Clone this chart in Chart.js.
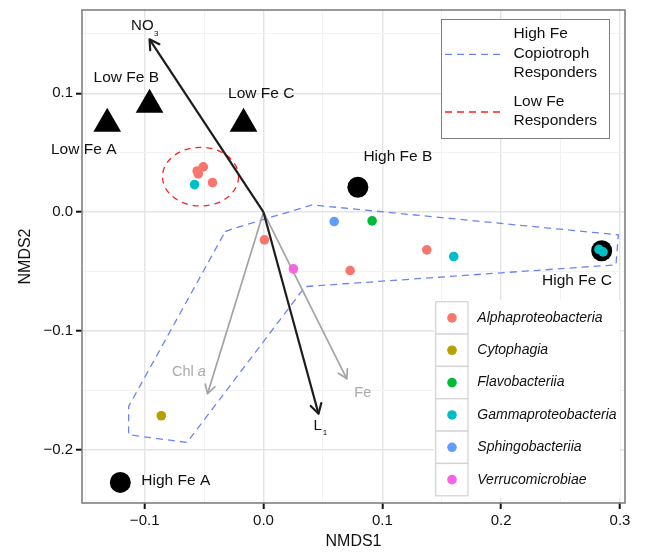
<!DOCTYPE html>
<html>
<head>
<meta charset="utf-8">
<script src="https://cdn.jsdelivr.net/npm/chart.js@4.4.0/dist/chart.umd.min.js"></script>
<style>
    html, body { margin: 0; padding: 0; background: #fff; }
    #wrap { width: 645px; height: 552px; }
</style>
</head>
<body>
<div id="wrap"><canvas id="nmds" width="645" height="552"></canvas></div>
<script>
// sample scores
var sampleNames = ['Low Fe A', 'Low Fe B', 'Low Fe C', 'High Fe A', 'High Fe B', 'High Fe C'];
var sampleX = [-0.1315, -0.0959, -0.0168, -0.1205, 0.0794, 0.2846];
var sampleY = [0.0744, 0.0904, 0.0744, -0.2274, 0.0210, -0.0325];

// responder OTUs by class
var taxaNames = ['Alphaproteobacteria', 'Cytophagia', 'Flavobacteriia', 'Gammaproteobacteria', 'Sphingobacteriia', 'Verrucomicrobiae'];
var alphaX = [-0.0558, -0.0507, -0.0549, -0.0429, 0.0008, 0.0729, 0.1374];
var alphaY = [0.0347, 0.0381, 0.0322, 0.0249, -0.0233, -0.0491, -0.0317];
var cytoX = [-0.0860];
var cytoY = [-0.1713];
var flavoX = [0.0914];
var flavoY = [-0.0073];
var gammaX = [-0.0580, 0.1601, 0.2823, 0.2857];
var gammaY = [0.0232, -0.0373, -0.0313, -0.0334];
var sphingoX = [0.0595];
var sphingoY = [-0.0079];
var verrucoX = [0.0252];
var verrucoY = [-0.0477];

// fitted environmental vectors
var vectorNames = ['NO3', 'L1', 'Chl a', 'Fe'];
var vectorX = [-0.0959, 0.0463, -0.0471, 0.0701];
var vectorY = [0.1455, -0.1696, -0.1528, -0.1402];

// High Fe copiotroph responders hull
var hullX = [-0.0322, -0.0246, 0.0410, 0.2986, 0.2966, 0.0351, -0.0644, -0.1135, -0.1135, -0.0322];
var hullY = [-0.0163, -0.0135, 0.0061, -0.0191, -0.0443, -0.0626, -0.1938, -0.1873, -0.1635, -0.0163];

// Low Fe responders ellipse
var ellipseCenter = [-0.0530, 0.0299];
var ellipseRadii = [0.0320, 0.0247];

// axis ticks
var xMajor = [-0.1, 0, 0.1, 0.2, 0.3];
var xMinor = [-0.15, -0.05, 0.05, 0.15, 0.25];
var yMajor = [-0.2, -0.1, 0, 0.1];
var yMinor = [-0.15, -0.05, 0.05, 0.15];

var taxaColors = ['#F8766D', '#B79F00', '#00BA38', '#00BFC4', '#619CFF', '#F564E3'];
var vecColors = ['#1c1c1c', '#1c1c1c', '#a3a3a3', '#a3a3a3'];
var FONT = "'Liberation Sans', Arial, Helvetica, sans-serif";

Chart.defaults.font.family = FONT;

function pts(xs, ys) {
    return xs.map((x, i) => ({x: x, y: ys[i]}));
}

function isMajor(v, list) {
    return list.some(m => Math.abs(m - v) < 1e-6);
}

function tickText(v) {
    let s = Math.abs(v).toFixed(1);
    return v < -1e-9 ? '\u2212' + s : s;
}

function allTicks(a, b) {
    return a.concat(b).sort((p, q) => p - q).map(v => ({value: v}));
}

function axis(major, minor, min, max, title, titlePad) {
    return {
        type: 'linear',
        min: min,
        max: max,
        afterBuildTicks: s => { s.ticks = allTicks(major, minor); },
        grid: {
            color: c => isMajor(c.tick.value, major) ? '#e4e4e4' : '#f2f2f2',
            lineWidth: c => isMajor(c.tick.value, major) ? 1.4 : 1,
            tickColor: c => isMajor(c.tick.value, major) ? '#111' : 'rgba(0,0,0,0)',
            tickWidth: 2,
            tickLength: 6
        },
        border: { display: false },
        ticks: {
            autoSkip: false,
            maxRotation: 0,
            minRotation: 0,
            padding: 3,
            color: '#111',
            font: { size: 15, family: FONT, lineHeight: 1.2 },
            callback: v => isMajor(v, major) ? tickText(v) : ''
        },
        title: {
            display: true,
            text: title,
            color: '#111',
            font: { size: 16, family: FONT, lineHeight: 1.2 },
            padding: titlePad
        }
    };
}

function drawText(ctx, s, x, y, size, color, align, style) {
    ctx.font = (style || '') + ' ' + size + 'px ' + FONT;
    ctx.fillStyle = color;
    ctx.textAlign = align || 'center';
    ctx.textBaseline = 'middle';
    ctx.fillText(s, x, y);
    return ctx.measureText(s).width;
}

var overlay = {
    id: 'overlay',
    beforeDatasetsDraw(chart) {
        let ctx = chart.ctx, xs = chart.scales.x, ys = chart.scales.y;
        let cx = xs.getPixelForValue(ellipseCenter[0]);
        let cy = ys.getPixelForValue(ellipseCenter[1]);
        let rx = Math.abs(xs.getPixelForValue(ellipseCenter[0] + ellipseRadii[0]) - cx);
        let ry = Math.abs(ys.getPixelForValue(ellipseCenter[1] + ellipseRadii[1]) - cy);
        ctx.save();
        ctx.strokeStyle = '#ff1f1f';
        ctx.lineWidth = 1.3;
        ctx.setLineDash([6, 5]);
        ctx.beginPath();
        ctx.ellipse(cx, cy, rx, ry, 0, 0, 2 * Math.PI);
        ctx.stroke();
        ctx.restore();
    },
    afterDatasetsDraw(chart) {
        let ctx = chart.ctx, xs = chart.scales.x, ys = chart.scales.y;
        let x0 = xs.getPixelForValue(0), y0 = ys.getPixelForValue(0);
        ctx.save();

        // arrow heads
        vectorX.forEach((vx, i) => {
            let x1 = xs.getPixelForValue(vx), y1 = ys.getPixelForValue(vectorY[i]);
            let a = Math.atan2(y1 - y0, x1 - x0);
            let len = i < 2 ? 11 : 10;
            ctx.strokeStyle = vecColors[i];
            ctx.lineWidth = i < 2 ? 2.2 : 1.7;
            ctx.lineCap = 'round';
            ctx.lineJoin = 'round';
            ctx.beginPath();
            ctx.moveTo(x1 - len * Math.cos(a - Math.PI / 6), y1 - len * Math.sin(a - Math.PI / 6));
            ctx.lineTo(x1, y1);
            ctx.lineTo(x1 - len * Math.cos(a + Math.PI / 6), y1 - len * Math.sin(a + Math.PI / 6));
            ctx.stroke();
        });

        // vector labels
        let px = i => xs.getPixelForValue(vectorX[i]);
        let py = i => ys.getPixelForValue(vectorY[i]);
        let w = drawText(ctx, 'NO', px(0) - 18.5, py(0) - 13, 15, '#111', 'left');
        drawText(ctx, '3', px(0) - 18.5 + w + 0.5, py(0) - 5.5, 8, '#111', 'left');
        w = drawText(ctx, 'L', px(1) - 5, py(1) + 12, 15, '#111', 'left');
        drawText(ctx, '1', px(1) - 5 + w + 1, py(1) + 19, 8, '#111', 'left');
        w = drawText(ctx, 'Chl ', px(2) - 35.5, py(2) - 22, 14.5, '#aaa', 'left');
        drawText(ctx, 'a', px(2) - 35.5 + w, py(2) - 22, 14.5, '#aaa', 'left', 'italic');
        drawText(ctx, 'Fe', px(3) + 7.5, py(3) + 14.5, 14.5, '#aaa', 'left');

        // sample labels
        let off = [[-23.5, 26.2, 'center'], [-23.3, -27.3, 'center'], [17.7, -30.3, 'center'],
                   [21, -1.5, 'left'], [40, -30.6, 'center'], [-24.7, 30, 'center']];
        sampleNames.forEach((s, i) => {
            drawText(ctx, s, xs.getPixelForValue(sampleX[i]) + off[i][0],
                     ys.getPixelForValue(sampleY[i]) + off[i][1], 15.5, '#111', off[i][2]);
        });
        ctx.restore();
    },
    afterDraw(chart) {
        let ctx = chart.ctx, area = chart.chartArea;
        ctx.save();

        // group legend
        ctx.fillStyle = '#fff';
        ctx.fillRect(441.5, 19.5, 168, 119);
        ctx.strokeStyle = '#7f7f7f';
        ctx.lineWidth = 1;
        ctx.strokeRect(441.5, 19.5, 168, 119);
        ctx.lineWidth = 1.3;
        ctx.setLineDash([7, 5]);
        ctx.strokeStyle = '#6b84f5';
        ctx.beginPath(); ctx.moveTo(445, 54.3); ctx.lineTo(501, 54.3); ctx.stroke();
        ctx.strokeStyle = '#ff1f1f';
        ctx.beginPath(); ctx.moveTo(445, 112); ctx.lineTo(501, 112); ctx.stroke();
        ctx.setLineDash([]);
        ['High Fe', 'Copiotroph', 'Responders'].forEach((s, i) => drawText(ctx, s, 513.5, 34.2 + i * 19.2, 15.5, '#111', 'left'));
        ['Low Fe', 'Responders'].forEach((s, i) => drawText(ctx, s, 513.5, 102 + i * 19.2, 15.5, '#111', 'left'));

        // class legend
        ctx.fillStyle = '#fff';
        ctx.fillRect(434, 300, 186, 198);
        taxaNames.forEach((s, i) => {
            let top = 301.7 + i * 32.35;
            ctx.fillStyle = '#fff';
            ctx.fillRect(435.7, top, 32.3, 32.35);
            ctx.strokeStyle = '#d4d4d4';
            ctx.lineWidth = 1.3;
            ctx.strokeRect(435.7, top, 32.3, 32.35);
            ctx.fillStyle = taxaColors[i];
            ctx.beginPath();
            ctx.arc(452, top + 16.2, 4.8, 0, 2 * Math.PI);
            ctx.fill();
            drawText(ctx, s, 477.3, top + 16.2, 14, '#111', 'left', 'italic');
        });

        // panel border
        ctx.strokeStyle = '#808080';
        ctx.lineWidth = 1.6;
        ctx.strokeRect(area.left, area.top, area.right - area.left, area.bottom - area.top);
        ctx.restore();
    }
};

function taxaSet(i, xs, ys) {
    return {
        label: taxaNames[i],
        data: pts(xs, ys),
        pointRadius: 4.8,
        pointBorderWidth: 0,
        backgroundColor: taxaColors[i],
        borderColor: taxaColors[i],
        order: 1
    };
}

function vectorSet(i) {
    return {
        label: vectorNames[i],
        data: [{x: 0, y: 0}, {x: vectorX[i], y: vectorY[i]}],
        showLine: true,
        pointRadius: 0,
        borderColor: vecColors[i],
        borderWidth: i < 2 ? 2.2 : 1.7,
        order: i < 2 ? 3 : 4
    };
}

var lowIdx = [0, 1, 2], highIdx = [3, 4, 5];

new Chart(document.getElementById('nmds'), {
    type: 'scatter',
    data: {
        datasets: [
            {
                label: 'hull',
                data: pts(hullX, hullY),
                showLine: true,
                pointRadius: 0,
                borderColor: '#6b84f5',
                borderWidth: 1.3,
                borderDash: [7, 5],
                tension: 0,
                fill: false,
                order: 9
            },
            vectorSet(2), vectorSet(3), vectorSet(0), vectorSet(1),
            {
                label: 'Low Fe',
                data: lowIdx.map(i => ({x: sampleX[i], y: sampleY[i]})),
                pointStyle: 'triangle',
                pointRadius: 16,
                pointBorderWidth: 0,
                backgroundColor: '#000',
                borderColor: '#000',
                order: 2
            },
            {
                label: 'High Fe',
                data: highIdx.map(i => ({x: sampleX[i], y: sampleY[i]})),
                pointRadius: 10.5,
                pointBorderWidth: 0,
                backgroundColor: '#000',
                borderColor: '#000',
                order: 2
            },
            taxaSet(0, alphaX, alphaY),
            taxaSet(1, cytoX, cytoY),
            taxaSet(2, flavoX, flavoY),
            taxaSet(3, gammaX, gammaY),
            taxaSet(4, sphingoX, sphingoY),
            taxaSet(5, verrucoX, verrucoY)
        ]
    },
    options: {
        responsive: false,
        animation: false,
        devicePixelRatio: 1,
        events: [],
        layout: { autoPadding: false, padding: { top: 10, right: 20, left: 0, bottom: 0 } },
        plugins: {
            legend: { display: false },
            tooltip: { enabled: false }
        },
        scales: {
            x: Object.assign(axis(xMajor, xMinor, -0.15274, 0.30421, 'NMDS1', {top: 0, bottom: 1}),
                { afterFit: s => { s.height = 49; s.paddingLeft = 0; s.paddingRight = 0; } }),
            y: Object.assign(axis(yMajor, yMinor, -0.24474, 0.17014, 'NMDS2', {top: 16, bottom: 0}),
                { afterFit: s => { s.width = 82; s.paddingTop = 0; s.paddingBottom = 0; } })
        }
    },
    plugins: [overlay]
});
</script>
</body>
</html>
